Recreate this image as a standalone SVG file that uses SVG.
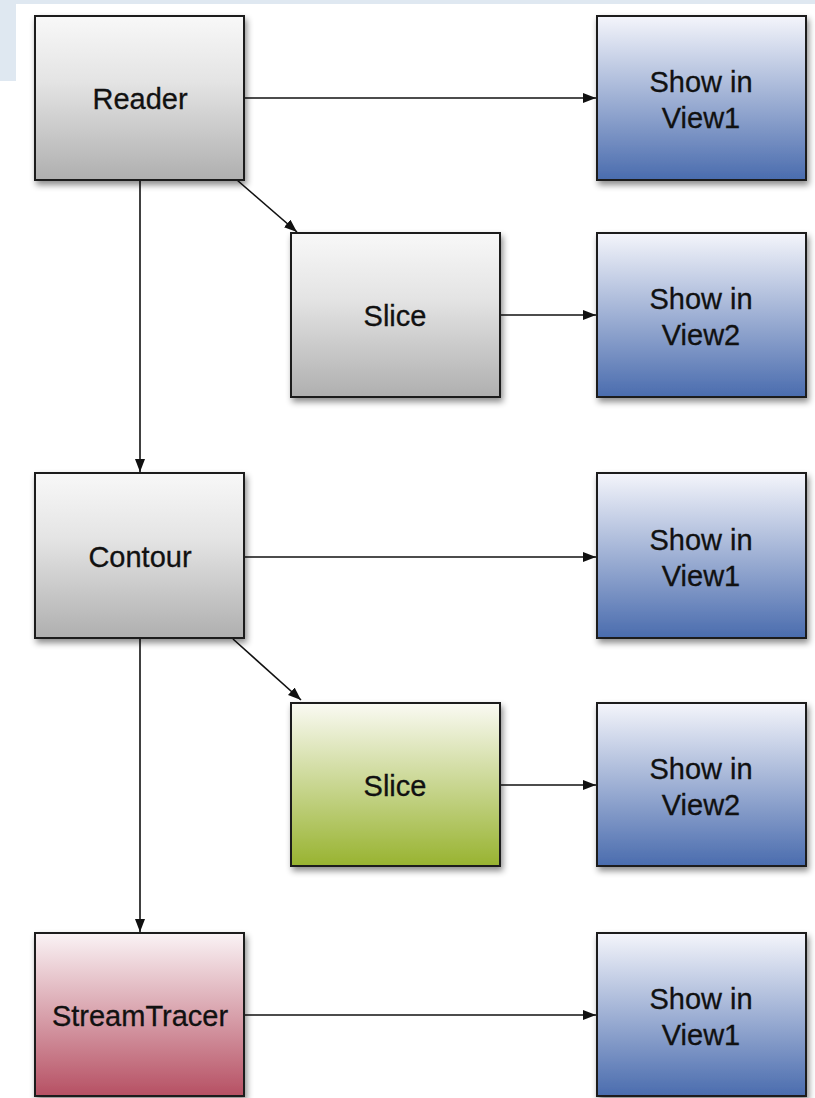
<svg xmlns="http://www.w3.org/2000/svg" width="815" height="1098" viewBox="0 0 815 1098">
<defs>
<linearGradient id="gGray" x1="0" y1="0" x2="0" y2="1"><stop offset="0" stop-color="#f8f8f8"/><stop offset="0.4" stop-color="#e4e4e4"/><stop offset="1" stop-color="#afafaf"/></linearGradient>
<linearGradient id="gBlue" x1="0" y1="0" x2="0" y2="1"><stop offset="0" stop-color="#f4f5fb"/><stop offset="1" stop-color="#4a6cae"/></linearGradient>
<linearGradient id="gGreen" x1="0" y1="0" x2="0" y2="1"><stop offset="0" stop-color="#fafaf3"/><stop offset="1" stop-color="#98b330"/></linearGradient>
<linearGradient id="gRed" x1="0" y1="0" x2="0" y2="1"><stop offset="0" stop-color="#faf3f5"/><stop offset="1" stop-color="#b65063"/></linearGradient>
<filter id="sh" x="-10%" y="-10%" width="130%" height="130%"><feDropShadow dx="2" dy="4" stdDeviation="3" flood-color="#000" flood-opacity="0.45"/></filter>
<marker id="arr" viewBox="0 0 13 10" refX="13" refY="5" markerWidth="13" markerHeight="10" markerUnits="userSpaceOnUse" orient="auto"><path d="M0,0 L13,5 L0,10 z" fill="#111"/></marker>
</defs>
<style>
.box{stroke:#1a1a1a;stroke-width:2;filter:url(#sh)}
.t{font-family:"Liberation Sans",Arial,sans-serif;font-size:29px;fill:#111;text-anchor:middle;stroke:#111;stroke-width:0.3}
.c{stroke:#111;stroke-width:1.6;fill:none;marker-end:url(#arr)}
</style>
<rect x="0" y="0" width="815" height="1098" fill="#fff"/>
<rect x="0" y="0" width="815" height="4" fill="#dfe8f1"/>
<rect x="0" y="0" width="16" height="81" fill="#dfe8f1"/>
<g id="connectors">
<line class="c" x1="244" y1="98" x2="596" y2="98"/>
<line class="c" x1="237" y1="180" x2="297" y2="232"/>
<line class="c" x1="140" y1="180" x2="140" y2="472"/>
<line class="c" x1="500" y1="315" x2="596" y2="315"/>
<line class="c" x1="244" y1="557" x2="596" y2="557"/>
<line class="c" x1="233" y1="639" x2="301" y2="700"/>
<line class="c" x1="140" y1="639" x2="140" y2="932"/>
<line class="c" x1="500" y1="785" x2="596" y2="785"/>
<line class="c" x1="244" y1="1015" x2="596" y2="1015"/>
</g>
<g id="reader"><rect class="box" x="35" y="16" width="209" height="164" fill="url(#gGray)"/><text class="t" x="140" y="109">Reader</text></g>
<g id="view1a"><rect class="box" x="597" y="16" width="209" height="164" fill="url(#gBlue)"/><text class="t" x="701" y="92">Show in</text><text class="t" x="701" y="128">View1</text></g>
<g id="slice1"><rect class="box" x="291" y="233" width="209" height="164" fill="url(#gGray)"/><text class="t" x="395" y="326">Slice</text></g>
<g id="view2a"><rect class="box" x="597" y="233" width="209" height="164" fill="url(#gBlue)"/><text class="t" x="701" y="309">Show in</text><text class="t" x="701" y="345">View2</text></g>
<g id="contour"><rect class="box" x="35" y="473" width="209" height="165" fill="url(#gGray)"/><text class="t" x="140" y="567">Contour</text></g>
<g id="view1b"><rect class="box" x="597" y="473" width="209" height="165" fill="url(#gBlue)"/><text class="t" x="701" y="550">Show in</text><text class="t" x="701" y="586">View1</text></g>
<g id="slice2"><rect class="box" x="291" y="703" width="209" height="163" fill="url(#gGreen)"/><text class="t" x="395" y="796">Slice</text></g>
<g id="view2b"><rect class="box" x="597" y="703" width="209" height="163" fill="url(#gBlue)"/><text class="t" x="701" y="779">Show in</text><text class="t" x="701" y="815">View2</text></g>
<g id="streamtracer"><rect class="box" x="35" y="933" width="209" height="163" fill="url(#gRed)"/><text class="t" x="140" y="1026">StreamTracer</text></g>
<g id="view1c"><rect class="box" x="597" y="933" width="209" height="163" fill="url(#gBlue)"/><text class="t" x="701" y="1009">Show in</text><text class="t" x="701" y="1045">View1</text></g>
</svg>
